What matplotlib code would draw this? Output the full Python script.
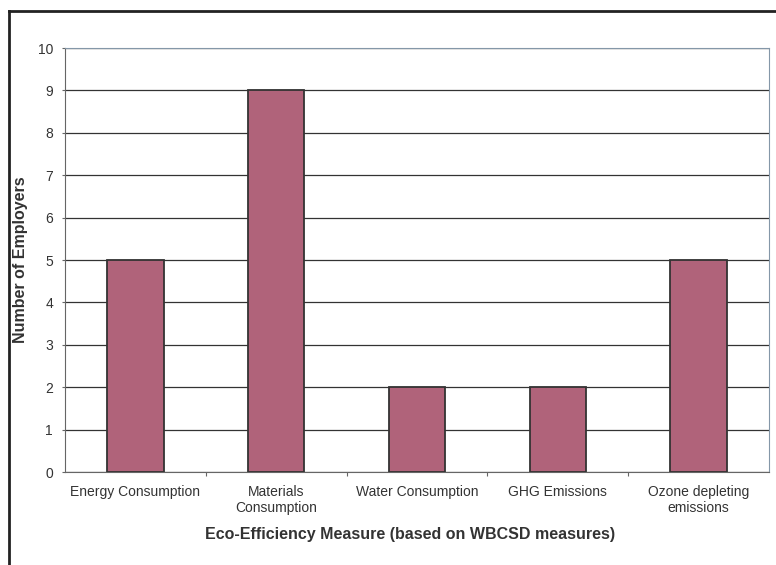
import matplotlib
matplotlib.use("Agg")
import matplotlib.pyplot as plt
from matplotlib.lines import Line2D

plt.rcParams['font.family'] = ['Liberation Sans', 'DejaVu Sans']

# Datos
categorias = ["Energy Consumption", "Materials\nConsumption", "Water Consumption",
              "GHG Emissions", "Ozone depleting\nemissions"]
valores = [5, 9, 2, 2, 5]

W, H = 776, 565
fig = plt.figure(figsize=(W / 100, H / 100), dpi=100)
ax = fig.add_axes([65 / W, 1 - 472 / H, (769 - 65) / W, (472 - 48) / H])

pos = list(range(len(categorias)))
ax.bar(pos, valores, width=0.4, color="#B0637A", edgecolor="#333333", linewidth=1.3, zorder=3)

ax.set_xlim(-0.5, len(categorias) - 0.5)
ax.set_ylim(0, 10)
ax.set_yticks(range(0, 11))
ax.yaxis.grid(True, color="#333333", linewidth=0.9, zorder=0)

# Marcas del eje x entre categorías
ax.set_xticks([p + 0.5 for p in pos[:-1]])
ax.set_xticklabels([])
ax.set_xticks(pos, minor=True)
ax.set_xticklabels(categorias, minor=True, fontsize=10, color="#333333")
ax.tick_params(axis="x", which="minor", length=0, pad=9.5)
ax.tick_params(axis="x", which="major", length=3, color="#666666")
ax.tick_params(axis="y", labelsize=10, labelcolor="#333333", length=2.2, pad=6.5,
               color="#666666")

for s in ["left", "bottom"]:
    ax.spines[s].set_color("#666666")
for s in ["top", "right"]:
    ax.spines[s].set_color("#8497A8")

ax.set_xlabel("Eco-Efficiency Measure (based on WBCSD measures)", fontsize=11.5,
              fontweight="bold", color="#333333", va="center")
ax.xaxis.set_label_coords((410 - 65) / 704, (472 - 535) / 424)
ax.set_ylabel("Number of Employers", fontsize=11.5, fontweight="bold", color="#333333",
              va="center", ha="center")
ax.yaxis.set_label_coords((21 - 65) / 704, 0.5)

# Borde de la figura (solo arriba e izquierda)
fig.add_artist(Line2D([9 / W, 1], [1 - 11 / H, 1 - 11 / H], transform=fig.transFigure,
                      color="#222222", linewidth=2))
fig.add_artist(Line2D([9 / W, 9 / W], [0, 1 - 11 / H], transform=fig.transFigure,
                      color="#222222", linewidth=2))

fig.savefig("out.png", dpi=100)
